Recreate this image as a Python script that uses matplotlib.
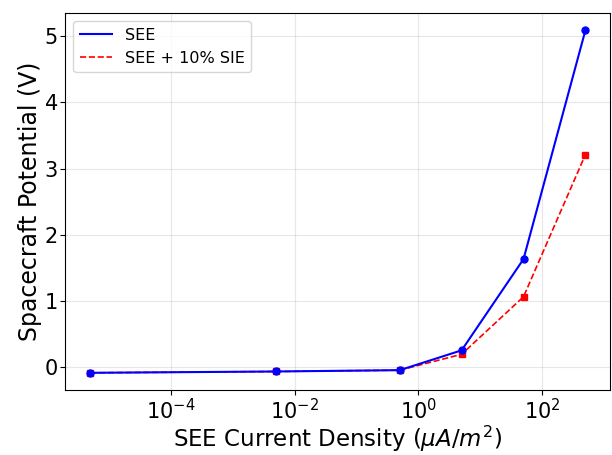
import matplotlib
matplotlib.use('Agg')
import matplotlib.pyplot as plt
import numpy as np

# SEE current density (uA/m^2) and spacecraft potential (V)
current = np.array([5e-6, 5e-3, 5e-1, 5, 50, 500])
pot_see = np.array([-0.09, -0.07, -0.05, 0.25, 1.63, 5.09])
pot_see_sie = np.array([-0.09, -0.07, -0.05, 0.19, 1.06, 3.21])
xticks = [1e-4, 1e-2, 1e0, 1e2]

fig = plt.figure(figsize=(6.12, 4.55), dpi=100)
ax = fig.add_axes([0.107, 0.143, 0.89, 0.828])

# red underneath, blue on top
l2, = ax.plot(current, pot_see_sie, 'r--', lw=1.2, label='SEE + 10% SIE', zorder=2)
ax.plot(current, pot_see_sie, 'rs', ms=5, zorder=2)
l1, = ax.plot(current, pot_see, 'b-', lw=1.5, label='SEE', zorder=3)
ax.plot(current, pot_see, 'bo', ms=5, zorder=3)

ax.set_xscale('log')
ax.set_xticks(xticks)
ax.minorticks_off()
ax.grid(True, alpha=0.3)
ax.tick_params(labelsize=15, pad=2)
ax.set_xlabel(r'SEE Current Density ($\mu A/m^2$)', fontsize=16.5, labelpad=1)
ax.set_ylabel('Spacecraft Potential (V)', fontsize=17, labelpad=2)
ax.legend(handles=[l1, l2], loc='upper left', fontsize=11.5)

plt.savefig('out.png', dpi=100)
